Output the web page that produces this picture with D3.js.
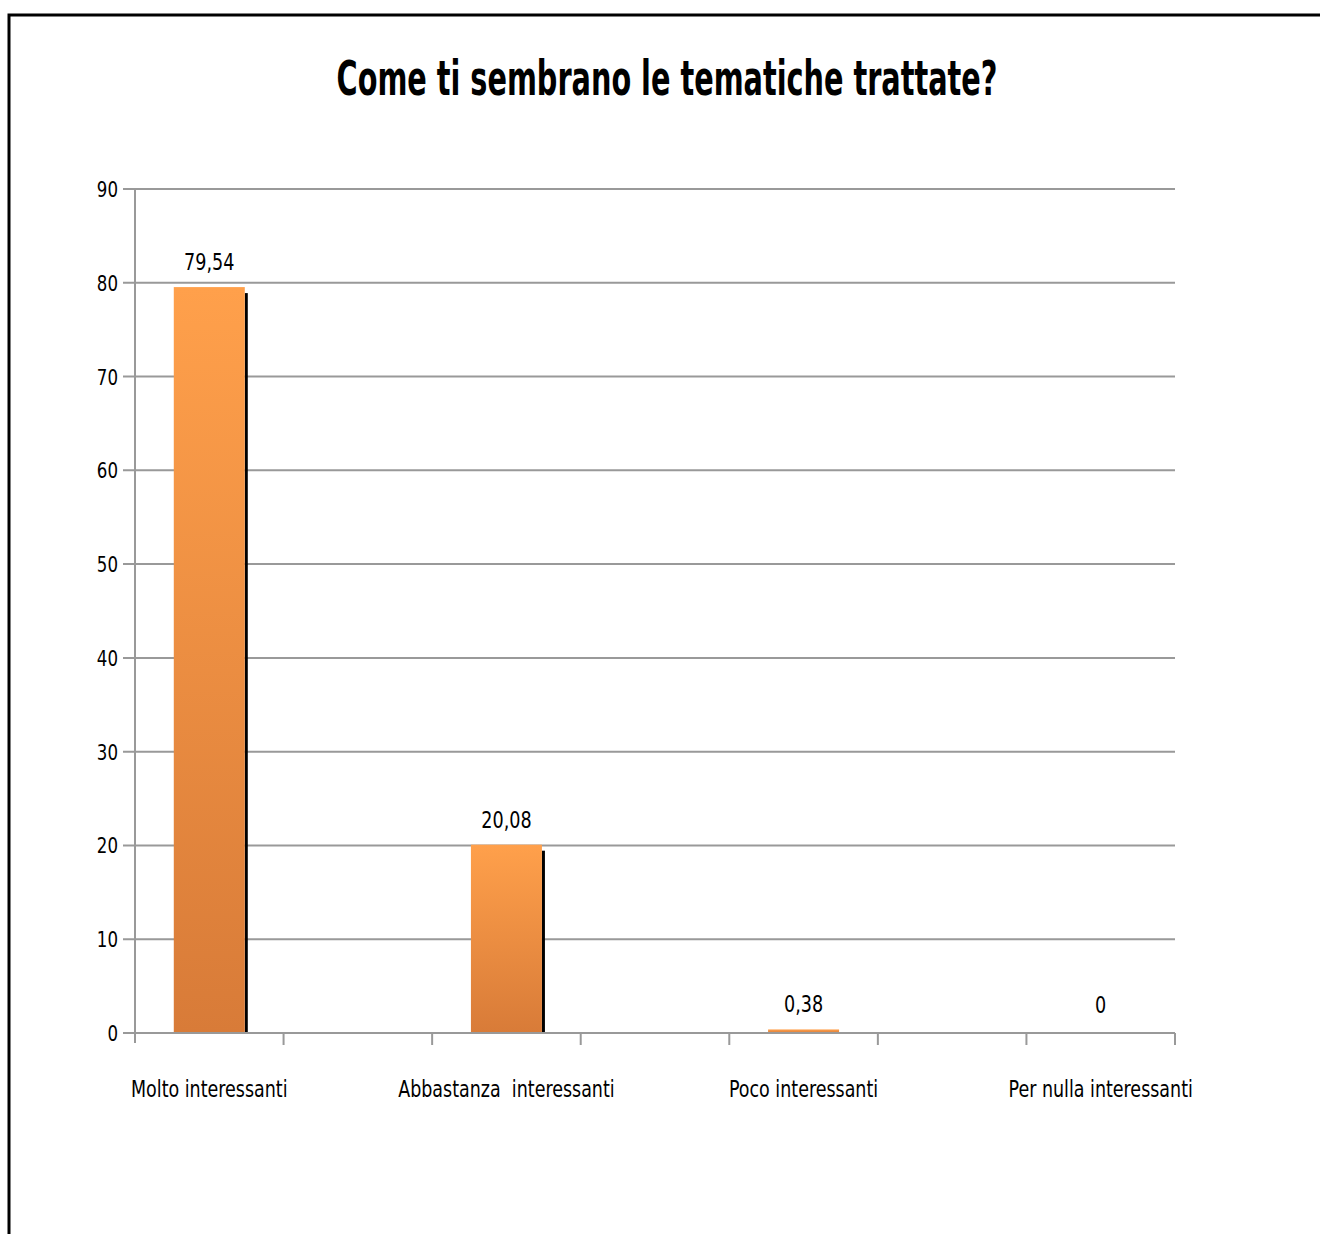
<!DOCTYPE html>
<html><head><meta charset="utf-8">
<script src="https://cdn.jsdelivr.net/npm/d3@7"></script>
<style>
html,body{margin:0;padding:0;background:#fff;}
svg{display:block;}
text{font-family:"Liberation Sans Narrow","DejaVu Sans Condensed","Open Sans",sans-serif;}
</style></head>
<body>
<svg id="chart" width="1320" height="1234"></svg>
<script>
const title = "Come ti sembrano le tematiche trattate?";
const categories = ["Molto interessanti", "Abbastanza  interessanti", "Poco interessanti", "Per nulla interessanti"];
const values = [79.54, 20.08, 0.38, 0];
const valueLabels = ["79,54", "20,08", "0,38", "0"];
const yTicks = [0, 10, 20, 30, 40, 50, 60, 70, 80, 90];

const svg = d3.select("#chart");
const W = 1320, H = 1234;

// narrow the fallback font horizontally to mimic the condensed original face
function condense(sel, factor) {
  sel.each(function() {
    const len = this.getComputedTextLength();
    d3.select(this).attr("textLength", len * factor).attr("lengthAdjust", "spacingAndGlyphs");
  });
}

// frame
svg.append("path").attr("d", `M9,${H} L9,15 L${W},15`).attr("fill","none").attr("stroke","#000").attr("stroke-width",3);

svg.append("text").attr("x", 667).attr("y", 95).attr("text-anchor","middle")
  .attr("font-size", 48).attr("font-weight","bold").attr("fill","#000").text(title)
  .call(condense, 0.665);

const x0 = 135, xEnd = 1175;
const step = (xEnd - x0) / 7 * 2;
const x = d3.scaleBand().domain(categories).range([x0, x0 + step * categories.length]).paddingInner(0).paddingOuter(0);
const y = d3.scaleLinear().domain([0, 90]).range([1033, 189]);

const defs = svg.append("defs");
const grad = defs.append("linearGradient").attr("id","barGrad").attr("x1",0).attr("y1",0).attr("x2",0).attr("y2",1);
grad.append("stop").attr("offset","0%").attr("stop-color","#FFA04B");
grad.append("stop").attr("offset","100%").attr("stop-color","#D87B38");

// gridlines
svg.append("g").selectAll("line").data(yTicks).join("line")
  .attr("x1", x0 - 12).attr("x2", xEnd).attr("y1", d => y(d)).attr("y2", d => y(d))
  .attr("stroke","#999").attr("stroke-width",2);

// y axis line
svg.append("line").attr("x1",x0).attr("x2",x0).attr("y1",y(90)).attr("y2",y(0)+10).attr("stroke","#999").attr("stroke-width",2);

// y tick labels
svg.append("g").selectAll("text").data(yTicks).join("text")
  .attr("x", x0 - 17).attr("y", d => y(d) + 8).attr("text-anchor","end")
  .attr("font-size", 21).attr("fill","#000").text(d => d)
  .call(condense, 0.88);

// x ticks
const xTickPos = [];
categories.forEach(c => { xTickPos.push(x(c)); xTickPos.push(x(c) + x.bandwidth()/2); });
svg.append("g").selectAll("line").data(xTickPos.slice(1)).join("line")
  .attr("x1", d => d).attr("x2", d => d).attr("y1", y(0)).attr("y2", y(0)+12)
  .attr("stroke","#999").attr("stroke-width",2);

const bw = 71;
const cx = c => x(c) + x.bandwidth()/4;

// bar shadows
svg.append("g").selectAll("rect").data(categories).join("rect")
  .attr("x", c => cx(c) + bw/2).attr("width", 3)
  .attr("y", (c,i) => Math.min(y(values[i]) + 6, y(0)))
  .attr("height", (c,i) => Math.max(0, y(0) - y(values[i]) - 6))
  .attr("fill","#000");

// bars
svg.append("g").selectAll("rect").data(categories).join("rect")
  .attr("x", c => cx(c) - bw/2).attr("width", bw)
  .attr("y", (c,i) => y(values[i]) - (values[i] > 0 && y(0) - y(values[i]) < 3 ? 3 - (y(0)-y(values[i])) : 0))
  .attr("height", (c,i) => values[i] > 0 ? Math.max(3, y(0) - y(values[i])) : 0)
  .attr("fill","url(#barGrad)");

// redraw baseline on top
svg.append("line").attr("x1",x0-12).attr("x2",xEnd).attr("y1",y(0)).attr("y2",y(0)).attr("stroke","#999").attr("stroke-width",2);

// value labels
svg.append("g").selectAll("text").data(categories).join("text")
  .attr("x", c => cx(c)).attr("y", (c,i) => Math.min(y(values[i]), y(0) - 3) - 17)
  .attr("text-anchor","middle").attr("font-size", 23).attr("fill","#000")
  .text((c,i) => valueLabels[i])
  .call(condense, 0.85);

// category labels
svg.append("g").selectAll("text").data(categories).join("text")
  .attr("x", c => cx(c)).attr("y", 1097)
  .attr("text-anchor","middle").attr("font-size", 23).attr("fill","#000")
  .attr("xml:space","preserve").style("white-space","pre")
  .text(c => c)
  .call(condense, 0.845);
</script>
</body></html>
